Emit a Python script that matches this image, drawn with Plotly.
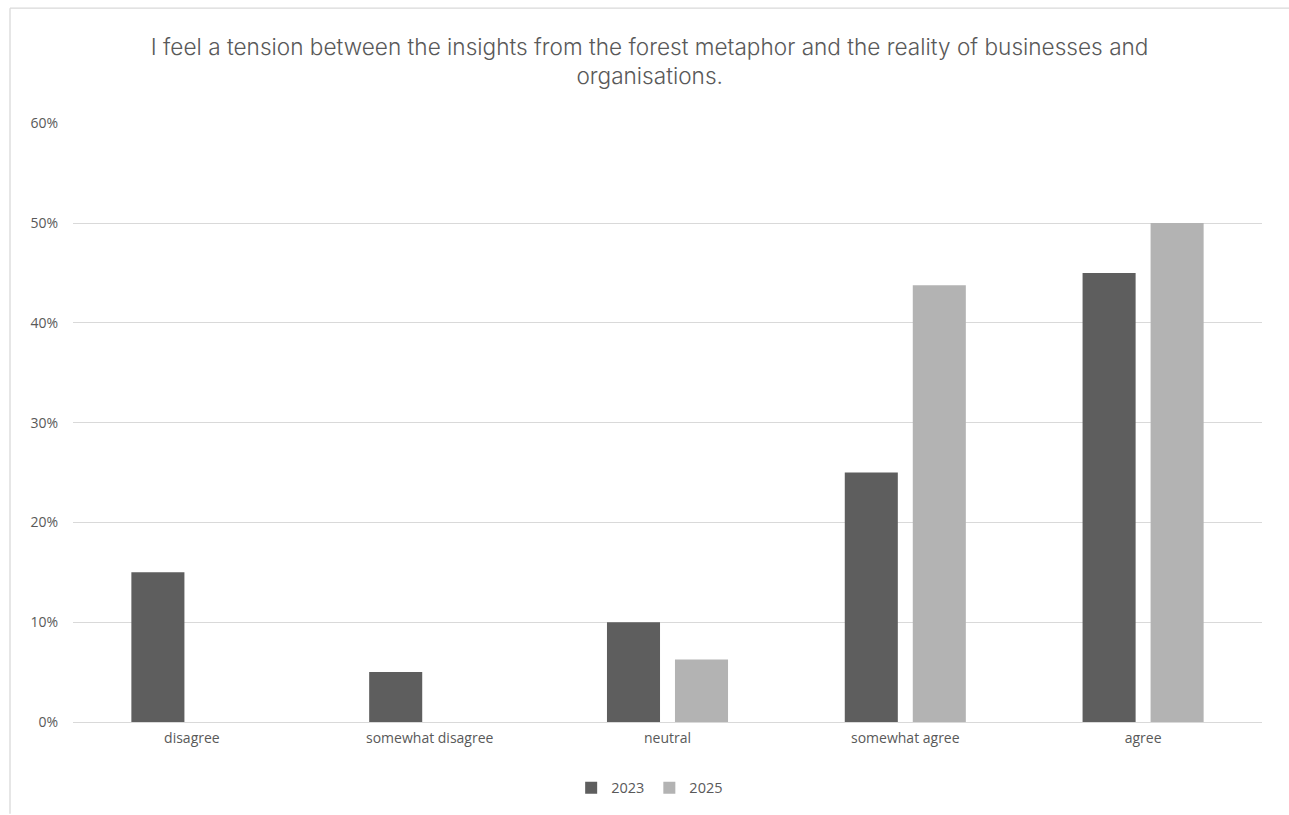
import plotly.graph_objects as go

categories = ["disagree", "somewhat disagree", "neutral", "somewhat agree", "agree"]
values_2023 = [0.15, 0.05, 0.10, 0.25, 0.45]
values_2025 = [0.0, 0.0, 0.0625, 0.4375, 0.50]
series_names = ["2023", "2025"]
title_text = ("I feel a tension between the insights from the forest metaphor and the reality of businesses and"
              "<br>organisations.")

FONT = "Open Sans"
TXT = "#595959"
GRID = "#d9d9d9"

fig = go.Figure()
fig.add_trace(go.Bar(x=categories, y=values_2023, name=series_names[0],
                     marker=dict(color="#5e5e5e", line=dict(width=0))))
fig.add_trace(go.Bar(x=categories, y=values_2025, name=series_names[1],
                     marker=dict(color="#b3b3b3", line=dict(width=0))))

fig.update_layout(
    width=1289, height=815,
    margin=dict(l=73, r=27, t=123, b=92),
    paper_bgcolor="white", plot_bgcolor="white",
    barmode="group", bargap=0.428, bargroupgap=0.22,
    font=dict(family=FONT, color=TXT, size=14),
    title=dict(text=title_text, x=0.504, xanchor="center", xref="container",
               y=1 - 55 / 815, yanchor="middle",
               font=dict(family="Inter", size=22.6, color=TXT, weight=300)),
    xaxis=dict(showgrid=False, showline=False, ticks="", tickfont=dict(size=14, color=TXT),
               ticklabelstandoff=6),
    yaxis=dict(range=[0, 0.6002], dtick=0.1, tickformat=".0%", showgrid=True,
               gridcolor=GRID, gridwidth=1.3, zeroline=True, zerolinecolor=GRID, zerolinewidth=1.3,
               showline=False, ticks="", tickfont=dict(size=14, color=TXT), ticklabelstandoff=14),
    legend=dict(orientation="h", x=0.485, xanchor="center", y=-0.108, yanchor="middle",
                font=dict(size=14.5, color=TXT), itemwidth=30, traceorder="normal"),
    shapes=[
        dict(type="line", xref="paper", yref="paper", x0=(10 - 73) / 1189, x1=(1289 - 73) / 1189,
             y0=(723 - 8) / 600, y1=(723 - 8) / 600, line=dict(color=GRID, width=1.3)),
        dict(type="line", xref="paper", yref="paper", x0=(10 - 73) / 1189, x1=(10 - 73) / 1189,
             y0=(723 - 8) / 600, y1=(723 - 815) / 600, line=dict(color=GRID, width=1.3)),
    ],
)

fig.write_html("out.html")
